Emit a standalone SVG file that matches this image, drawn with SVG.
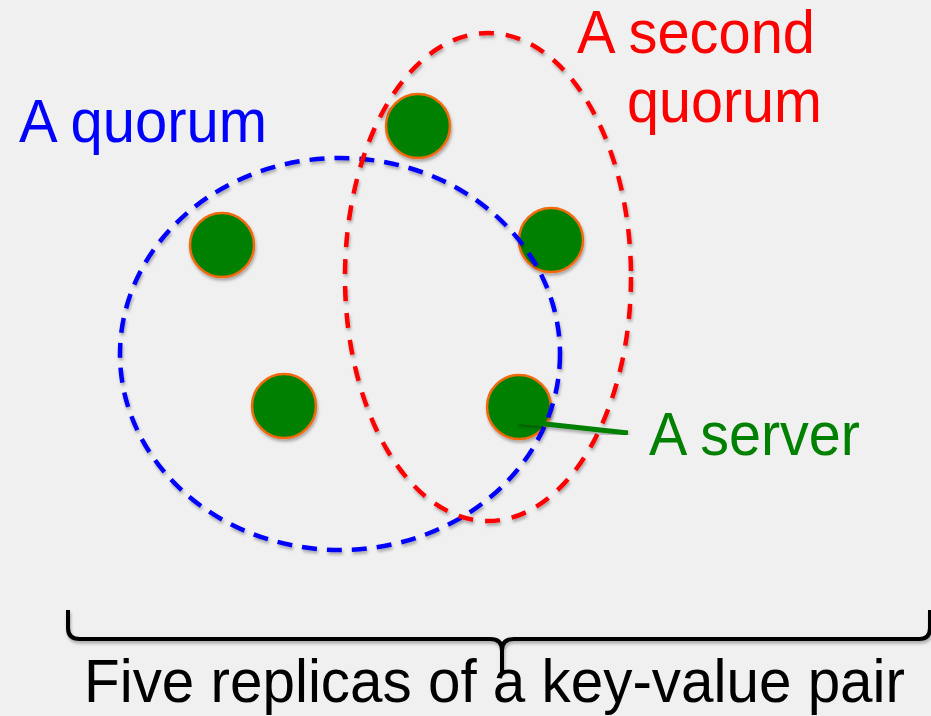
<svg xmlns="http://www.w3.org/2000/svg" width="931" height="716" viewBox="0 0 931 716">
  <defs>
    <filter id="sh" x="-10%" y="-10%" width="120%" height="120%">
      <feDropShadow dx="1" dy="2.5" stdDeviation="1.5" flood-color="#000" flood-opacity="0.3"/>
    </filter>
  </defs>
  <style>
    .lbl { font-family: "Liberation Sans", Arial, Helvetica, sans-serif; font-size: 61px; }
    .srv { fill: #008000; stroke: #f26b0f; stroke-width: 2.5; filter: url(#sh); }
    .q1 { fill: none; stroke: #0000ff; stroke-width: 4.5; stroke-dasharray: 15 10; filter: url(#sh); }
    .q2 { fill: none; stroke: #ff0000; stroke-width: 4.5; stroke-dasharray: 15 12; filter: url(#sh); }
  </style>
  <rect x="0" y="0" width="931" height="716" fill="#f0f0f0"/>

  <g id="servers">
    <circle id="server1" class="srv" cx="418" cy="126" r="32"/>
    <circle id="server2" class="srv" cx="222" cy="245" r="32"/>
    <circle id="server3" class="srv" cx="551" cy="240" r="32"/>
    <circle id="server4" class="srv" cx="284" cy="406" r="32"/>
    <circle id="server5" class="srv" cx="519" cy="407" r="32"/>
  </g>

  <g id="quorum1">
    <ellipse class="q1" cx="340" cy="354" rx="220" ry="196"/>
  </g>
  <g id="quorum2">
    <ellipse class="q2" cx="488" cy="277" rx="143" ry="244"/>
  </g>

  <g id="connectors">
    <line x1="518" y1="421" x2="628" y2="433" stroke="#008000" stroke-width="5" filter="url(#sh)"/>
    <path d="M68,610 L68,628 Q68,639 80,639 L490,639 Q502,639 502,650 L502,672 M502,650 Q502,639 514,639 L919,639 Q930,639 930,628 L930,610" fill="none" stroke="#000" stroke-width="4" stroke-linejoin="round" filter="url(#sh)"/>
  </g>

  <g id="labels">
    <text class="lbl" x="19" y="142" fill="#0000ff" textLength="248" lengthAdjust="spacingAndGlyphs">A quorum</text>
    <text class="lbl" x="577" y="53" fill="#ff0000" textLength="238" lengthAdjust="spacingAndGlyphs">A second</text>
    <text class="lbl" x="627" y="122" fill="#ff0000" textLength="195" lengthAdjust="spacingAndGlyphs">quorum</text>
    <text class="lbl" x="649" y="455" fill="#008000" textLength="211" lengthAdjust="spacingAndGlyphs">A server</text>
    <text class="lbl" x="84" y="702" fill="#000" font-size="57" textLength="821" lengthAdjust="spacingAndGlyphs">Five replicas of a key-value pair</text>
  </g>
</svg>
